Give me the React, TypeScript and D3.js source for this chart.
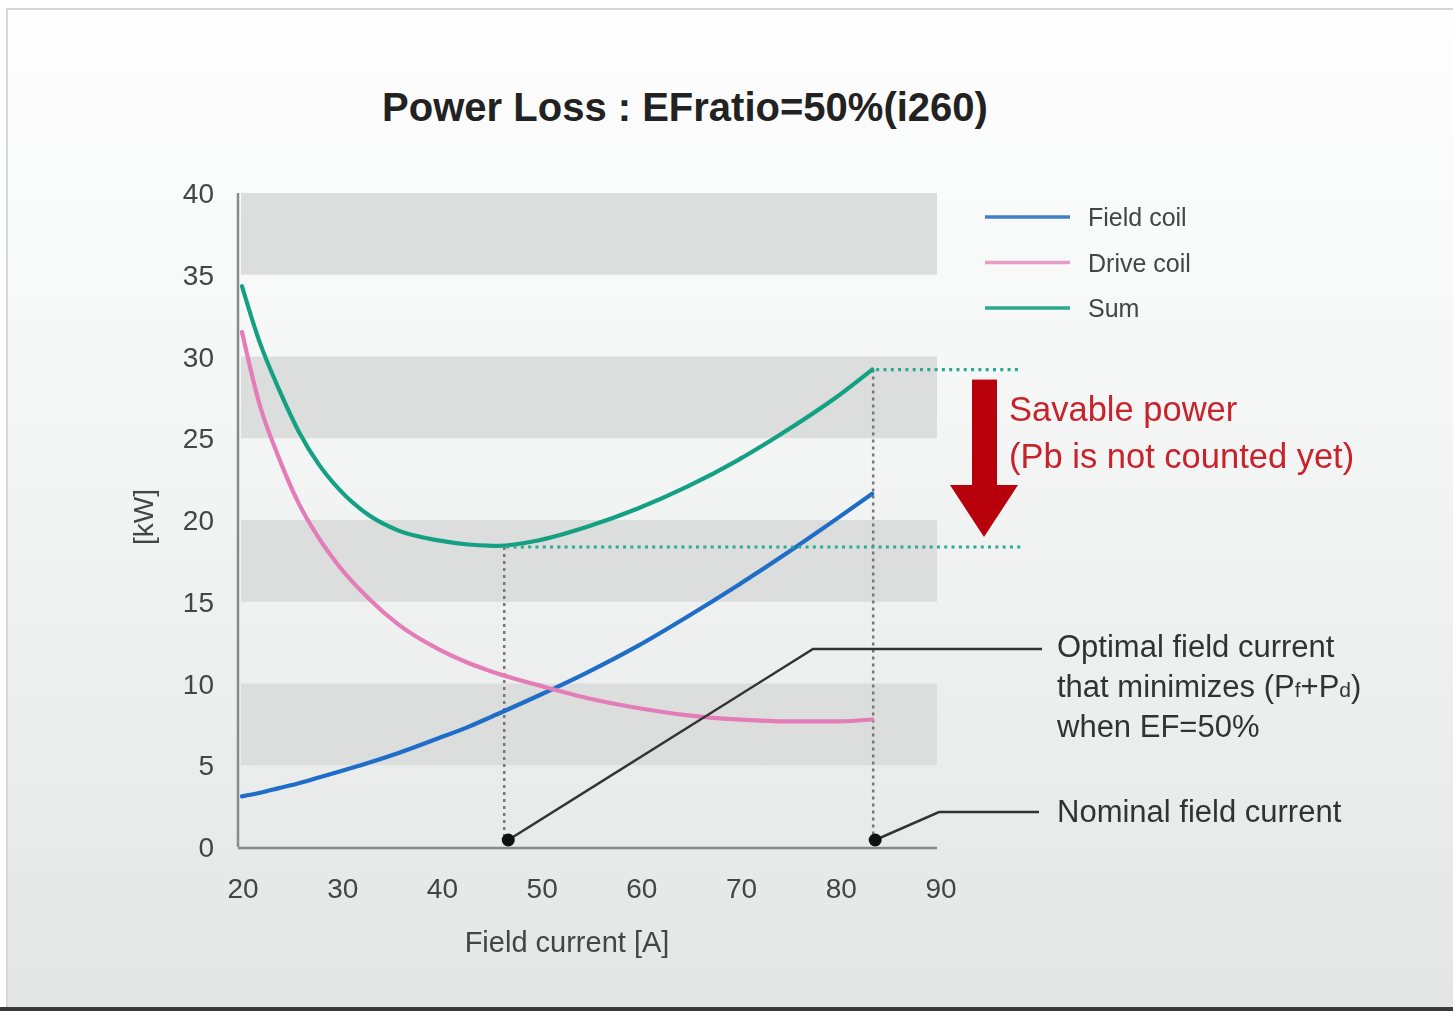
import React from "react";
import * as d3 from "d3";

// field current [A] where the curves were read
const fieldCurrent = [20.3, 22, 24, 26, 28, 30, 33, 36, 40, 43, 46, 50, 55, 60, 65, 70, 75, 80, 83.5];
// losses [kW]
const fieldCoil = [3.1, 3.3, 3.6, 3.9, 4.25, 4.6, 5.15, 5.75, 6.65, 7.35, 8.15, 9.25, 10.7, 12.3, 14.1, 16.0, 18.0, 20.1, 21.6];
const driveCoil = [31.5, 27.2, 23.8, 21.0, 18.9, 17.2, 15.2, 13.6, 12.1, 11.25, 10.6, 9.9, 9.1, 8.5, 8.05, 7.8, 7.68, 7.68, 7.8];
const sumLoss = [34.3, 31.0, 28.0, 25.4, 23.4, 21.9, 20.3, 19.35, 18.75, 18.5, 18.42, 18.75, 19.6, 20.7, 22.05, 23.65, 25.5, 27.55, 29.2];

const xTicks = [20, 30, 40, 50, 60, 70, 80, 90];
const yTicks = [0, 5, 10, 15, 20, 25, 30, 35, 40];
const bands = [[35, 40], [25, 30], [15, 20], [5, 10]];

const seriesNames = ["Field coil", "Drive coil", "Sum"];
const optimalCurrent = 46.6;
const nominalCurrent = 83.6;
const minSum = 18.35;
const nominalSum = 29.2;

const FONT = "'Liberation Sans', Arial, Helvetica, sans-serif";

export default function App() {
  const x = d3.scaleLinear().domain([20, 90]).range([239, 937]);
  const y = d3.scaleLinear().domain([0, 40]).range([847, 193]);

  const colors = { "Field coil": "#1e6dc6", "Drive coil": "#e47cb8", "Sum": "#14a083" };
  const legendColors = { "Field coil": "#3f80c9", "Drive coil": "#e99bc8", "Sum": "#2caa8f" };
  const values = { "Field coil": fieldCoil, "Drive coil": driveCoil, "Sum": sumLoss };

  const line = d3.line<number>()
    .x((d, i) => x(fieldCurrent[i]))
    .y(d => y(d))
    .curve(d3.curveMonotoneX);

  // annotation geometry
  const yTop = y(nominalSum);
  const yMin = y(minSum);
  const xOpt = x(optimalCurrent);
  const xNom = x(nominalCurrent);
  const arrowX = 984;
  const dotY = 840;

  return (
    <svg width={1453} height={1013} style={{ position: "absolute", left: 0, top: 0 }} fontFamily={FONT}>
      <defs>
        <linearGradient id="bg" x1="0" y1="0" x2="0" y2="1">
          <stop offset="0" stopColor="#fefefe" />
          <stop offset="0.35" stopColor="#f6f7f7" />
          <stop offset="1" stopColor="#e4e5e5" />
        </linearGradient>
        <filter id="soft" x="-5%" y="-5%" width="110%" height="110%">
          <feGaussianBlur stdDeviation="0.45" />
        </filter>
      </defs>

      <rect x={0} y={0} width={1453} height={1013} fill="#ffffff" />
      <rect x={7} y={9} width={1450} height={999} fill="url(#bg)" stroke="#d6d7d7" strokeWidth={2} />
      <rect x={0} y={1007} width={1453} height={4} fill="#3a3a3a" />

      {/* title */}
      <text x={685} y={121} textAnchor="middle" fontSize={40} fontWeight="bold" fill="#222">
        Power Loss : EFratio=50%(i260)
      </text>

      {/* bands */}
      {bands.map(b => (
        <rect key={b[0]} x={x(20) + 2} y={y(b[1])} width={x(90) - x(20) - 2} height={y(b[0]) - y(b[1])} fill="#dcdddd" />
      ))}

      {/* axes */}
      <line x1={x(20) - 1} x2={x(20) - 1} y1={y(40)} y2={y(0)} stroke="#8a8a8a" strokeWidth={2.5} />
      <line x1={x(20) - 1} x2={x(90)} y1={y(0) + 1} y2={y(0) + 1} stroke="#8a8a8a" strokeWidth={2.5} />

      <g filter="url(#soft)">
        {yTicks.map(t => (
          <text key={t} x={214} y={y(t) + 10} textAnchor="end" fontSize={28} fill="#444">{t}</text>
        ))}
        {xTicks.map(t => (
          <text key={t} x={x(t) + 4} y={898} textAnchor="middle" fontSize={28} fill="#444">{t}</text>
        ))}
        <text x={567} y={952} textAnchor="middle" fontSize={29} fill="#444">Field current [A]</text>
        <text transform="translate(153,517) rotate(-90)" textAnchor="middle" fontSize={28} fill="#444">[kW]</text>
      </g>

      {/* guide lines */}
      <line x1={xOpt} x2={xOpt} y1={yMin} y2={dotY} stroke="#777" strokeWidth={2.5} strokeDasharray="3 4" />
      <line x1={xNom} x2={xNom} y1={yTop} y2={dotY} stroke="#777" strokeWidth={2.5} strokeDasharray="3 4" />

      {/* curves */}
      {seriesNames.map(name => (
        <path key={name} d={line(values[name]) || ""} fill="none" stroke={colors[name]} strokeWidth={4.2} strokeLinecap="round" />
      ))}

      <line x1={xOpt + 2} x2={1022} y1={yMin} y2={yMin} stroke="#2aab8e" strokeWidth={3.2} strokeDasharray="3 4.3" />
      <line x1={xNom + 3} x2={1020} y1={yTop} y2={yTop} stroke="#2aab8e" strokeWidth={3.2} strokeDasharray="3 4.3" />

      {/* savable power arrow */}
      <rect x={arrowX - 12} y={yTop + 10} width={25} height={yMin - 62 - (yTop + 10)} fill="#b8000d" />
      <polygon points={`${arrowX - 34},${yMin - 62} ${arrowX + 34},${yMin - 62} ${arrowX},${yMin - 10}`} fill="#b8000d" />
      <g filter="url(#soft)" fill="#c8222c" fontSize={34.5}>
        <text x={1009} y={421}>Savable power</text>
        <text x={1009} y={468}>(Pb is not counted yet)</text>
      </g>

      {/* legend */}
      {seriesNames.map((name, i) => (
        <g key={name} transform={`translate(0,${217 + i * 45.5})`}>
          <line x1={985} x2={1070} y1={0} y2={0} stroke={legendColors[name]} strokeWidth={3.5} />
          <text x={1088} y={9} fontSize={25} fill="#444" filter="url(#soft)">{name}</text>
        </g>
      ))}

      {/* leader lines */}
      <polyline points={`${xOpt + 4},${dotY} 813,649 1042,649`} fill="none" stroke="#333" strokeWidth={2.5} />
      <polyline points={`${xNom + 2},${dotY} 939,812 1039,812`} fill="none" stroke="#333" strokeWidth={2.5} />
      <circle cx={xOpt + 4} cy={dotY} r={6.5} fill="#111" />
      <circle cx={xNom + 2} cy={dotY} r={6.5} fill="#111" />

      <g filter="url(#soft)" fontSize={31} fill="#333">
        <text x={1057} y={657}>Optimal field current</text>
        <text x={1057} y={697}>
          that minimizes (P<tspan fontSize={21}>f</tspan>+P<tspan fontSize={21}>d</tspan>)
        </text>
        <text x={1057} y={737}>when EF=50%</text>
        <text x={1057} y={822}>Nominal field current</text>
      </g>
    </svg>
  );
}
